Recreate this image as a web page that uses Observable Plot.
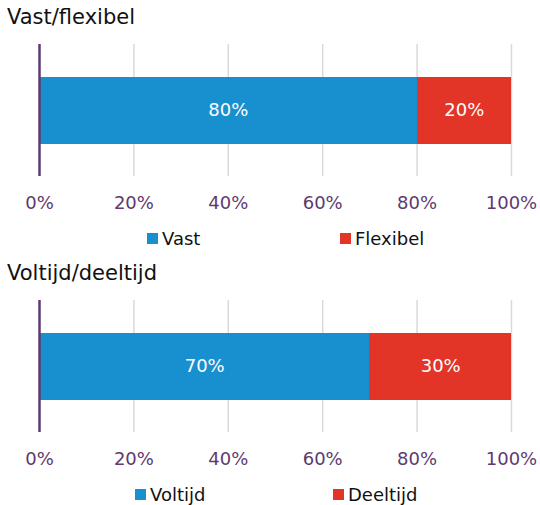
<!DOCTYPE html>
<html>
<head>
<meta charset="utf-8">
<script src="https://cdn.jsdelivr.net/npm/d3@7"></script>
<script src="https://cdn.jsdelivr.net/npm/@observablehq/plot@0.6"></script>
<style>
  body { margin: 0; background: #fff; font-family: "DejaVu Sans", Verdana, sans-serif; }
  #root { position: relative; width: 540px; height: 505px; }
  .title { position: absolute; left: 7px; font-size: 21px; color: #111; white-space: nowrap; }
  .chart { position: absolute; left: 0; }
  .leg { position: absolute; font-size: 18px; color: #111; white-space: nowrap; display: flex; align-items: center; }
  .sw { width: 11px; height: 11px; margin-right: 4px; display: inline-block; }
</style>
</head>
<body>
<div id="root"></div>
<script>
const titles = ["Vast/flexibel", "Voltijd/deeltijd"];
const seriesNames = [["Vast", "Flexibel"], ["Voltijd", "Deeltijd"]];
const seriesValues = [[80, 20], [70, 30]];
const tickValues = [0, 20, 40, 60, 80, 100];
const tickLabels = ["0%", "20%", "40%", "60%", "80%", "100%"];
const colors = ["#1890d0", "#e23528"];

const root = document.getElementById("root");
const tops = [0, 256];
const legendLeft = [[147, 340], [135, 333]];

titles.forEach((t, i) => {
  const top = tops[i];
  const title = document.createElement("div");
  title.className = "title";
  title.style.top = (top + 5) + "px";
  title.textContent = t;
  root.appendChild(title);

  const rows = seriesNames[i].map((name, j) => ({name, value: seriesValues[i][j]}));
  let acc = 0;
  rows.forEach(r => { r.x1 = acc; acc += r.value; r.x2 = acc; r.mid = (r.x1 + r.x2) / 2; });
  const ticks = tickValues.map((v, k) => ({v, label: tickLabels[k]}));

  const plot = Plot.plot({
    width: 540,
    height: 180,
    marginLeft: 39,
    marginRight: 29,
    marginTop: 8,
    marginBottom: 40,
    style: {fontFamily: "DejaVu Sans, Verdana, sans-serif", background: "transparent"},
    x: {domain: [0, 100], axis: null},
    color: {domain: seriesNames[i], range: colors},
    marks: [
      Plot.ruleX(ticks.filter(d => d.v > 0), {x: "v", stroke: "#d9d9d9", strokeWidth: 1.5}),
      Plot.rectX(rows, {x1: "x1", x2: "x2", fill: "name", insetTop: 33, insetBottom: 32, shapeRendering: "crispEdges"}),
      Plot.text(rows, {x: "mid", text: d => d.value + "%", fill: "white", fontSize: 18, frameAnchor: "middle"}),
      Plot.ruleX([0], {stroke: "#5e3a70", strokeWidth: 2.5}),
      Plot.text(ticks, {x: "v", text: "label", frameAnchor: "bottom", dy: 27, fontSize: 18, fill: "#5e3a70", lineAnchor: "middle"})
    ]
  });
  plot.classList.add("chart");
  plot.style.top = (top + 36) + "px";
  root.appendChild(plot);

  seriesNames[i].forEach((name, j) => {
    const leg = document.createElement("div");
    leg.className = "leg";
    leg.style.left = legendLeft[i][j] + "px";
    leg.style.top = (top + 226) + "px";
    leg.style.height = "24px";
    const sw = document.createElement("span");
    sw.className = "sw";
    sw.style.background = colors[j];
    leg.appendChild(sw);
    leg.appendChild(document.createTextNode(name));
    root.appendChild(leg);
  });
});
</script>
</body>
</html>
